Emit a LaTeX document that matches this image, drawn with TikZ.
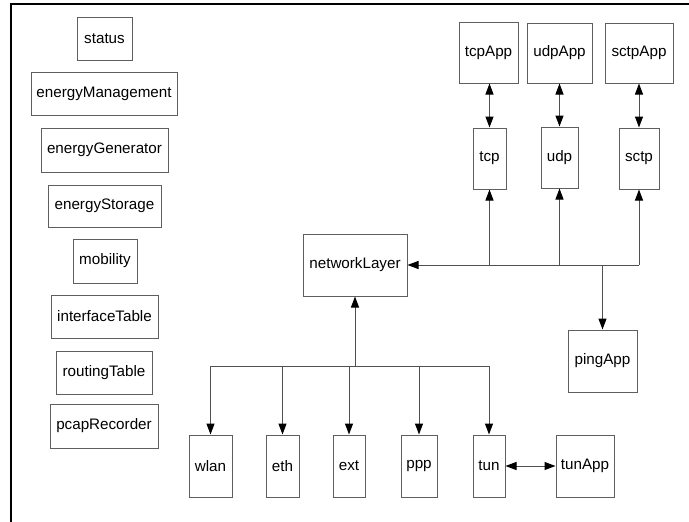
\documentclass[tikz,border=0pt]{standalone}
\usepackage{fontspec}
\setmainfont{Liberation Sans}
\usetikzlibrary{arrows.meta}
\definecolor{boxgray}{RGB}{95,95,95}
\definecolor{linegray}{RGB}{80,80,80}
\tikzset{
  box/.style={draw=boxgray, line width=1pt, inner sep=0pt, font=\fontsize{15.2}{18}\selectfont, text=black},
  conn/.style={draw=linegray, line width=1pt},
  tipx/.tip={Triangle[length=11pt,width=8pt,fill=black,color=black]},
  arr/.style={conn, -tipx},
  darr/.style={conn, tipx-tipx},
}
\newcommand{\bx}[5]{\node[box, minimum width=#3pt, minimum height=#4pt] (#1) at (#2) {#5};}
\begin{document}
\begin{tikzpicture}[x=1pt,y=-1pt]
\useasboundingbox (0,0) rectangle (689,522);
\draw[line width=1.8pt] (11,522) -- (11,4) -- (689,4);
% left column
\bx{status}{104.5,38.5}{55}{43}{status}
\bx{energyManagement}{104,93.5}{146}{43}{energyManagement}
\bx{energyGenerator}{104.5,150}{127}{44}{energyGenerator}
\bx{energyStorage}{104.5,206}{113}{42}{energyStorage}
\bx{mobility}{105,261}{64}{44}{mobility}
\bx{interfaceTable}{104.5,316.5}{107}{43}{interfaceTable}
\bx{routingTable}{104,372.5}{96}{43}{routingTable}
\bx{pcapRecorder}{104,426}{108}{44}{pcapRecorder}
% apps and transport
\bx{tcpApp}{488.5,52.5}{59}{61}{tcpApp}
\bx{udpApp}{559.5,53}{65}{60}{udpApp}
\bx{sctpApp}{639,53}{68}{60}{sctpApp}
\bx{tcp}{489.5,158.5}{33}{61}{tcp}
\bx{udp}{559.5,157.5}{37}{61}{udp}
\bx{sctp}{639,158.5}{40}{61}{sctp}
\bx{networkLayer}{355,265}{104}{62}{networkLayer}
\bx{pingApp}{602.5,361}{69}{62}{pingApp}
% interfaces
\bx{wlan}{210.5,466}{43}{62}{wlan}
\bx{eth}{282.5,466}{33}{62}{eth}
\bx{ext}{349,466}{32}{62}{ext}
\bx{ppp}{419,466}{36}{62}{ppp}
\bx{tun}{489,466}{32}{62}{tun}
\bx{tunApp}{585,466}{58}{62}{tunApp}
% app <-> transport
\draw[darr] (tcp.north|-tcpApp.south) -- (tcp.north);
\draw[darr] (udp.north|-udpApp.south) -- (udp.north);
\draw[darr] (sctp.north|-sctpApp.south) -- (sctp.north);
% upper bus
\draw[arr] (sctp.south|-networkLayer.east) -- (networkLayer.east);
\draw[arr] (tcp.south|-networkLayer.east) -- (tcp.south);
\draw[arr] (udp.south|-networkLayer.east) -- (udp.south);
\draw[arr] (sctp.south|-networkLayer.east) -- (sctp.south);
\draw[arr] (pingApp.north|-networkLayer.east) -- (pingApp.north);
% lower bus
\coordinate (bus) at (0,366);
\draw[conn] (wlan.north|-bus) -- (tun.north|-bus);
\draw[arr] (networkLayer.south|-bus) -- (networkLayer.south);
\draw[arr] (wlan.north|-bus) -- (wlan.north);
\draw[arr] (eth.north|-bus) -- (eth.north);
\draw[arr] (ext.north|-bus) -- (ext.north);
\draw[arr] (ppp.north|-bus) -- (ppp.north);
\draw[arr] (tun.north|-bus) -- (tun.north);
\draw[darr] (tun.east) -- (tunApp.west);
\end{tikzpicture}
\end{document}
